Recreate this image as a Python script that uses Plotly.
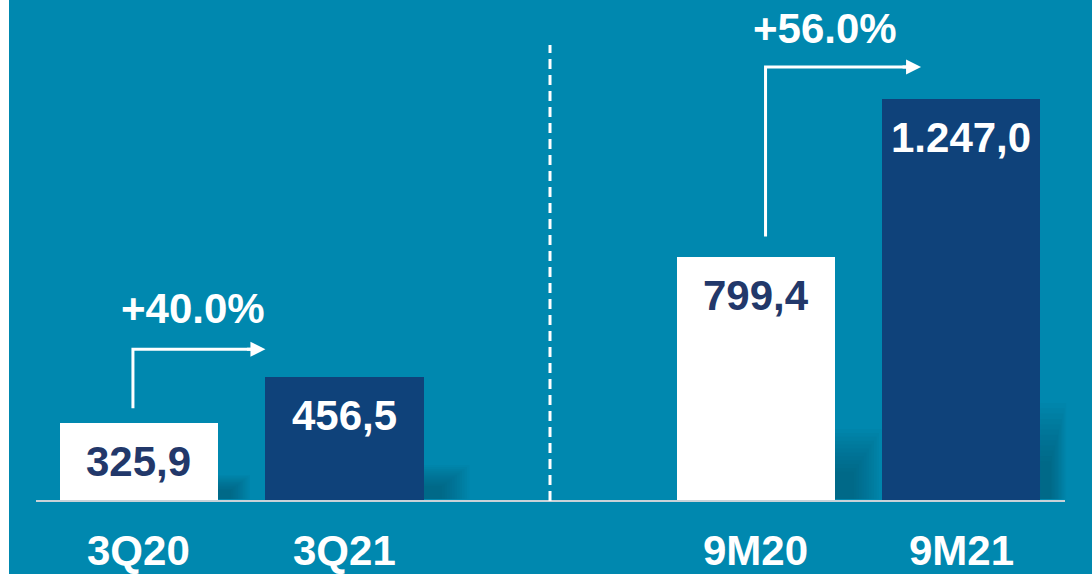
import plotly.graph_objects as go

# ---------------- data ----------------
CATEGORIES = ["3Q20", "3Q21", "9M20", "9M21"]
VALUES = [325.9, 456.5, 799.4, 1247.0]
VALUE_LABELS = ["325,9", "456,5", "799,4", "1.247,0"]
GROWTH_LABELS = ["+40.0%", "+56.0%"]
POSITIONS = [0, 1, 3, 4]
DIVIDER_POS = 2

# ---------------- style ----------------
BG = "#0088AF"
WHITE_BAR = "#FFFFFF"
DARK_BAR = "#0F427A"
DARK_TEXT = "#22386A"
FONT = "Liberation Sans, Arial, sans-serif"
BAR_COLORS = [WHITE_BAR, DARK_BAR, WHITE_BAR, DARK_BAR]
LABEL_COLORS = [DARK_TEXT, "#FFFFFF", DARK_TEXT, "#FFFFFF"]
FS = 42

W, H = 1092, 574
MB = 73
X_RANGE = [-0.676, 4.637]
Y_RANGE = [105.1, 1528.0]
BAR_W = 0.769

px_x = W / (X_RANGE[1] - X_RANGE[0])
px_y = (H - MB) / (Y_RANGE[1] - Y_RANGE[0])


def dx(p):
    return p / px_x


def dy(p):
    return p / px_y


fig = go.Figure()
fig.add_trace(go.Bar(
    x=POSITIONS, y=VALUES, width=BAR_W,
    marker=dict(color=BAR_COLORS, line=dict(width=0)),
    hoverinfo="skip", showlegend=False,
))

shapes = []
annotations = []

# white strip on the left edge
shapes.append(dict(type="rect", xref="paper", yref="paper", layer="above",
                   x0=0, x1=9 / W, y0=-MB / (H - MB), y1=1,
                   fillcolor="#FFFFFF", line=dict(width=0)))

# soft shadows to the right of bars (width px, height px)
shadow_specs = [(32, 26), (46, 36), (47, 72), (26, 98)]
N_LAYERS = 12
for pos, (sw, sh) in zip(POSITIONS, shadow_specs):
    xr = pos + BAR_W / 2
    for k in range(N_LAYERS):
        f = 1 - 0.65 * k / N_LAYERS
        shapes.append(dict(
            type="rect", layer="below", xref="x", yref="y",
            x0=xr, x1=xr + dx(sw * f),
            y0=Y_RANGE[0] + dy(2), y1=Y_RANGE[0] + dy(sh * f),
            fillcolor="rgba(0,60,90,0.045)", line=dict(width=0),
        ))

# baseline
shapes.append(dict(type="line", xref="paper", yref="paper",
                   x0=36 / W, x1=1065 / W, y0=0, y1=0,
                   line=dict(color="#C8D2D8", width=2)))

# dashed divider
shapes.append(dict(type="line", xref="x", yref="y",
                   x0=DIVIDER_POS, x1=DIVIDER_POS,
                   y0=Y_RANGE[0], y1=Y_RANGE[0] + dy(456),
                   line=dict(color="#FFFFFF", width=3, dash="10px,6px")))

# value labels inside bars
for pos, v, lab, c in zip(POSITIONS, VALUES, VALUE_LABELS, LABEL_COLORS):
    annotations.append(dict(
        x=pos, y=v, xref="x", yref="y", text=f"<b>{lab}</b>",
        showarrow=False, yanchor="top", xanchor="center", yshift=-13,
        font=dict(family=FONT, size=FS, color=c),
    ))

# category labels
for pos, cat in zip(POSITIONS, CATEGORIES):
    annotations.append(dict(
        x=pos, y=Y_RANGE[0], xref="x", yref="y", text=f"<b>{cat}</b>",
        showarrow=False, yanchor="middle", xanchor="center", yshift=-49,
        borderpad=0,
        font=dict(family=FONT, size=FS, color="#FFFFFF"),
    ))

# growth arrows: (vertical x, start y, corner y, tip x)
arrows = [
    (POSITIONS[0] + dx(-6), VALUES[0] + dy(15), VALUES[0] + dy(74), POSITIONS[1] - BAR_W / 2),
    (POSITIONS[2] + dx(10), VALUES[2] + dy(20), VALUES[3] + dy(32), POSITIONS[3] - BAR_W / 2 + dx(39)),
]
for (ax_, y0, yc, xt) in arrows:
    shapes.append(dict(type="path", xref="x", yref="y",
                       path=f"M {ax_},{y0} L {ax_},{yc} L {xt - dx(8)},{yc}",
                       line=dict(color="#FFFFFF", width=3)))
    annotations.append(dict(
        x=xt, y=yc, ax=xt - dx(20), ay=yc, xref="x", yref="y",
        axref="x", ayref="y", text="", showarrow=True,
        arrowhead=2, arrowsize=1, arrowwidth=3, arrowcolor="#FFFFFF",
    ))

# growth labels
growth_pos = [(0.265, VALUES[0] + dy(115)), (3.338, VALUES[3] + dy(70))]
for (gx, gy), lab in zip(growth_pos, GROWTH_LABELS):
    annotations.append(dict(
        x=gx, y=gy, xref="x", yref="y", text=f"<b>{lab}</b>",
        showarrow=False, xanchor="center", yanchor="middle",
        font=dict(family=FONT, size=FS, color="#FFFFFF"),
    ))

fig.update_layout(
    width=W, height=H,
    margin=dict(l=0, r=0, t=0, b=MB, pad=0),
    paper_bgcolor=BG, plot_bgcolor=BG,
    xaxis=dict(range=X_RANGE, visible=False, fixedrange=True),
    yaxis=dict(range=Y_RANGE, visible=False, fixedrange=True),
    shapes=shapes, annotations=annotations,
    bargap=0, showlegend=False,
)

fig.write_html(
    "out.html",
    config={"displayModeBar": False},
    post_script="document.body.style.margin='0';document.body.style.overflow='hidden';document.body.style.background='" + BG + "';",
)
